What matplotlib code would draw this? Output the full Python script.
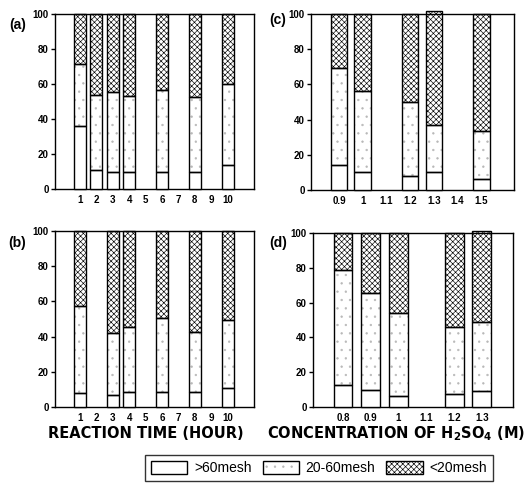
import numpy as np
import matplotlib
matplotlib.use("Agg")
import matplotlib.pyplot as plt
from matplotlib.patches import Patch

plt.rcParams['font.family'] = ['Liberation Sans', 'DejaVu Sans']
plt.rcParams['hatch.linewidth'] = 0.45

nan = np.nan
# Panel (a): reaction time
a_cats = ['1', '2', '3', '4', '5', '6', '7', '8', '9', '10']
a_gt60 = [36, 11, 10, 10, nan, 10, nan, 10, nan, 13.5]
a_mid = [35.5, 43, 45.5, 43, nan, 46.5, nan, 42.5, nan, 46.5]
a_lt20 = [28.5, 46, 44.5, 47, nan, 43.5, nan, 47.5, nan, 40]

# Panel (b): reaction time
b_cats = ['1', '2', '3', '4', '5', '6', '7', '8', '9', '10']
b_gt60 = [8, nan, 7, 8.3, nan, 8.3, nan, 8.3, nan, 10.6]
b_mid = [49.5, nan, 35, 37.2, nan, 42, nan, 34.2, nan, 39.1]
b_lt20 = [42.5, nan, 58, 54.5, nan, 49.7, nan, 57.5, nan, 50.3]

# Panel (c): H2SO4 concentration
c_cats = ['0.9', '1', '1.1', '1.2', '1.3', '1.4', '1.5']
c_gt60 = [14, 10, nan, 8.2, 10, nan, 6]
c_mid = [55.3, 46.5, nan, 41.7, 27, nan, 27.8]
c_lt20 = [30.7, 43.5, nan, 50.1, 64.5, nan, 66.2]

# Panel (d): H2SO4 concentration
d_cats = ['0.8', '0.9', '1', '1.1', '1.2', '1.3']
d_gt60 = [12.4, 10, 6.5, nan, 7.6, 9]
d_mid = [66.2, 55.8, 47.3, nan, 38.2, 40]
d_lt20 = [21.4, 34.2, 46.2, nan, 54.2, 52]

series_names = ['>60mesh', '20-60mesh', '<20mesh']
yticks = [0, 20, 40, 60, 80, 100]

W, H = 532, 493
fig = plt.figure(figsize=(W / 100, H / 100), dpi=100)

def ax_at(l, t, r, b):
    return fig.add_axes([l / W, 1 - b / H, (r - l) / W, (b - t) / H])

MID_HATCH = dict(facecolor='white', edgecolor='#b8b8b8', hatch='..')
LT_HATCH = dict(facecolor='white', edgecolor='black', hatch='xxxxxx')
LW = 1.0

def draw(ax, cats, s1, s2, s3, xlim, width, label, lab_xy):
    x = np.arange(len(cats))
    s1 = np.array(s1, float); s2 = np.array(s2, float); s3 = np.array(s3, float)
    m = ~np.isnan(s1)
    xs = x[m]
    v1, v2, v3 = s1[m], s2[m], s3[m]
    ax.bar(xs, v1, width, facecolor='white', edgecolor='black', lw=LW, zorder=3, clip_on=False)
    ax.bar(xs, v2, width, bottom=v1, lw=0, zorder=2, clip_on=False, **MID_HATCH)
    ax.bar(xs, v2, width, bottom=v1, fill=False, edgecolor='black', lw=LW, zorder=3, clip_on=False)
    ax.bar(xs, v3, width, bottom=v1 + v2, lw=0, zorder=2, clip_on=False, **LT_HATCH)
    ax.bar(xs, v3, width, bottom=v1 + v2, fill=False, edgecolor='black', lw=LW, zorder=3, clip_on=False)
    ax.set_xlim(*xlim)
    ax.set_ylim(0, 100)
    ax.set_xticks(x)
    ax.set_xticklabels(cats, fontsize=7, fontweight='bold')
    ax.set_yticks(yticks)
    ax.set_yticklabels([str(v) for v in yticks], fontsize=7, fontweight='bold')
    ax.tick_params(axis='x', length=0, pad=4)
    ax.tick_params(axis='y', length=3, width=LW, pad=1.5, direction='out')
    for sp in ax.spines.values():
        sp.set_linewidth(LW)
    fig.text(lab_xy[0] / W, 1 - lab_xy[1] / H, label, fontsize=10, fontweight='bold',
             ha='center', va='center')

ax_a = ax_at(55, 14, 254, 189)
draw(ax_a, a_cats, a_gt60, a_mid, a_lt20, (-1.52, 10.6), 0.73, '(a)', (18, 25))
ax_c = ax_at(311, 14, 514, 190)
draw(ax_c, c_cats, c_gt60, c_mid, c_lt20, (-1.18, 7.38), 0.7, '(c)', (278, 20))
ax_b = ax_at(55, 231, 254, 407)
draw(ax_b, b_cats, b_gt60, b_mid, b_lt20, (-1.52, 10.6), 0.73, '(b)', (17, 243))
ax_d = ax_at(313, 233, 513, 407)
draw(ax_d, d_cats, d_gt60, d_mid, d_lt20, (-1.08, 6.12), 0.68, '(d)', (278, 243))

fig.text(146 / W, 1 - 434 / H, 'REACTION TIME (HOUR)', fontsize=10.5, fontweight='bold',
         family='DejaVu Sans', ha='center', va='center')
fig.text(396 / W, 1 - 434 / H, 'CONCENTRATION OF H$_\\mathbf{2}$SO$_\\mathbf{4}$ (M)', fontsize=10.5,
         fontweight='bold', family='DejaVu Sans', ha='center', va='center')

def outline():
    return Patch(fill=False, edgecolor='black', lw=LW)

handles = [
    Patch(facecolor='white', edgecolor='black', lw=LW),
    (Patch(lw=0, **MID_HATCH), outline()),
    (Patch(lw=0, **LT_HATCH), outline()),
]
leg = fig.legend(handles=handles, labels=series_names, loc='center', ncol=3,
                 bbox_to_anchor=(319 / W, 1 - 468 / H),
                 frameon=True, fancybox=False, edgecolor='black', fontsize=10,
                 handlelength=2.6, handleheight=1.1, columnspacing=0.8, handletextpad=0.5,
                 borderpad=0.45, borderaxespad=0)
leg.get_frame().set_linewidth(LW)

fig.savefig('out.png', dpi=100)
